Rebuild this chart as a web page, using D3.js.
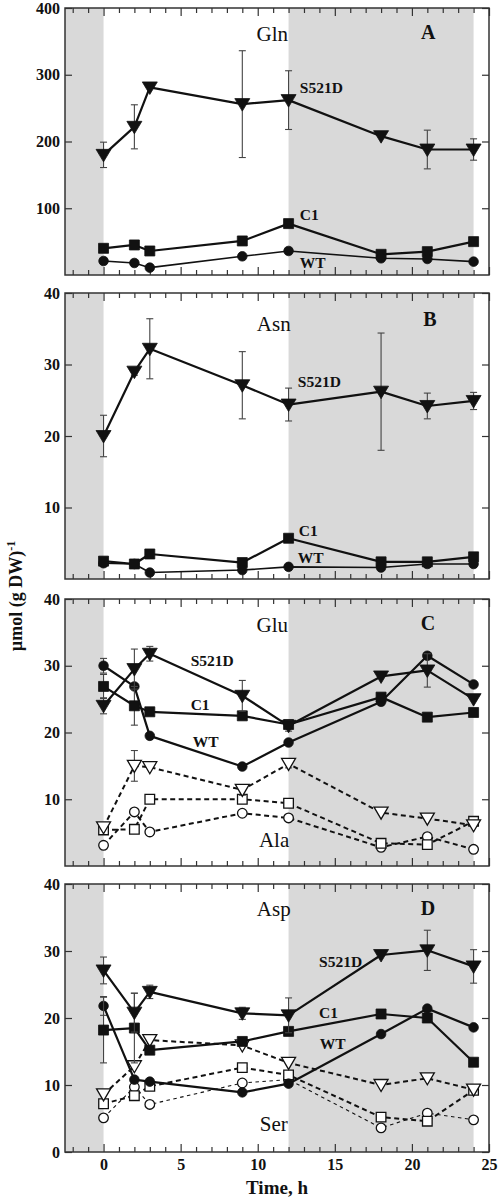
<!DOCTYPE html>
<html>
<head>
<meta charset="utf-8">
<script src="https://cdn.jsdelivr.net/npm/d3@7/dist/d3.min.js"></script>
<style>
  html, body { margin: 0; padding: 0; background: #fff; }
  svg { display: block; }
  text { font-family: "Liberation Serif", "Times New Roman", serif; fill: #111; }
</style>
</head>
<body>
<svg id="chart" width="498" height="1199"></svg>
<script>
// ---------- data ----------
const times = [0, 2, 3, 9, 12, 18, 21, 24];

// Panel A: Gln
const glnS521D    = [180, 222, 281, 256, 262, 208, 188, 188];
const glnS521DErr = [19, 33, 0, 80, 44, 0, 29, 16];
const glnC1       = [40, 45, 36, 51, 77, 31, 35, 50];
const glnC1Err    = [6, 6, 0, 0, 0, 0, 0, 0];
const glnWT       = [21, 18, 11, 28, 36, 25, 24, 20];

// Panel B: Asn
const asnS521D    = [20.0, 29.0, 32.2, 27.1, 24.4, 26.2, 24.2, 24.9];
const asnS521DErr = [2.9, 0.5, 4.2, 4.7, 2.3, 8.2, 1.8, 1.2];
const asnC1       = [2.5, 2.1, 3.5, 2.3, 5.7, 2.4, 2.4, 3.1];
const asnWT       = [2.2, 2.1, 0.9, 1.25, 1.7, 1.6, 2.1, 2.1];

// Panel C: Glu (solid) and Ala (dashed)
const gluS521D    = [24.0, 29.5, 31.8, 25.5, 21.0, 28.4, 29.3, 25.0];
const gluS521DErr = [1.2, 3.0, 1.1, 2.3, 0.8, 0, 2.5, 0];
const gluC1       = [26.9, 24.0, 23.1, 22.5, 21.2, 25.3, 22.3, 23.0];
const gluC1Err    = [1.8, 2.9, 0, 0, 0, 0, 0, 0];
const gluWT       = [30.0, 26.9, 19.5, 14.9, 18.5, 24.6, 31.5, 27.2];
const gluWTErr    = [1.1, 0, 0, 0, 0, 0, 0, 0];
const alaS521D    = [5.8, 15.0, 14.8, 11.4, 15.3, 8.0, 7.1, 6.1];
const alaS521DErr = [0, 2.3, 0, 0.8, 0.6, 0, 0, 0];
const alaC1       = [5.4, 5.5, 10.0, 10.0, 9.4, 3.4, 3.2, 6.7];
const alaWT       = [3.1, 8.1, 5.1, 7.9, 7.2, 2.8, 4.4, 2.5];

// Panel D: Asp (solid) and Ser (dashed)
const aspS521D    = [27.1, 20.8, 23.9, 20.7, 20.4, 29.4, 30.1, 27.7];
const aspS521DErr = [2.0, 2.9, 1.0, 0.9, 2.6, 0, 3.0, 2.5];
const aspC1       = [18.2, 18.5, 15.2, 16.5, 18.0, 20.6, 20.0, 13.4];
const aspC1Err    = [4.9, 5.2, 0, 0, 0, 0, 0, 0];
const aspWT       = [21.8, 10.8, 10.5, 8.9, 10.2, 17.6, 21.4, 18.6];
const aspWTErr    = [1.4, 0, 0, 0, 0, 0, 0, 0];
const serS521D    = [8.6, 12.8, 16.7, 15.9, 13.3, 10.0, 11.0, 9.3];
const serC1       = [7.2, 8.4, 9.8, 12.6, 11.5, 5.2, 4.6, 9.2];
const serWT       = [5.1, 9.7, 7.1, 10.3, 10.8, 3.6, 5.8, 4.8];

const darkPeriods = [[-2.5, 0], [12, 24]];
const xMajorTicks = [0, 5, 10, 15, 20, 25];
const xMinorTicks = d3.range(-2, 25, 1).filter(v => v % 5 !== 0);

// ---------- layout ----------
const svg = d3.select("#chart");
const X0 = 65, X1 = 489;
const x = d3.scaleLinear().domain([-2.5, 25]).range([X0, X1]);

const panels = [
  { top: 8,   bottom: 275, domain: [0, 400], ticks: [100, 200, 300, 400], letter: "A", name: "Gln",
    nameAt: [10.95, 351], letterAt: [21.06, 354],
    series: [
      { v: glnS521D, e: glnS521DErr, m: "tri", fill: true, dash: null, w: 2.2 },
      { v: glnC1, e: glnC1Err, m: "sq", fill: true, dash: null, w: 2.2 },
      { v: glnWT, m: "ci", fill: true, dash: null, w: 1.6 } ],
    labels: [ ["S521D", 12.73, 272.5], ["C1", 12.73, 82], ["WT", 12.73, 10.5] ] },
  { top: 293, bottom: 579, domain: [0, 40], ticks: [10, 20, 30, 40], letter: "B", name: "Asn",
    nameAt: [11.04, 34.7], letterAt: [21.17, 35.4],
    series: [
      { v: asnS521D, e: asnS521DErr, m: "tri", fill: true, dash: null, w: 2.2 },
      { v: asnC1, m: "sq", fill: true, dash: null, w: 2.2 },
      { v: asnWT, m: "ci", fill: true, dash: null, w: 1.6 } ],
    labels: [ ["S521D", 12.6, 26.9], ["C1", 12.66, 6.06], ["WT", 12.6, 2.28] ] },
  { top: 599, bottom: 866, domain: [0, 40], ticks: [10, 20, 30, 40], letter: "C", name: "Glu",
    nameAt: [10.94, 35.1], letterAt: [21.04, 35.4], name2: "Ala", name2At: [11.06, 2.8],
    series: [
      { v: alaWT, m: "ci", fill: false, dash: "5,3.5", w: 2 },
      { v: alaC1, m: "sq", fill: false, dash: "5,3.5", w: 2 },
      { v: alaS521D, e: alaS521DErr, m: "tri", fill: false, dash: "5,3.5", w: 2 },
      { v: gluWT, e: gluWTErr, m: "ci", fill: true, dash: null, w: 2.2 },
      { v: gluC1, e: gluC1Err, m: "sq", fill: true, dash: null, w: 2.2 },
      { v: gluS521D, e: gluS521DErr, m: "tri", fill: true, dash: null, w: 2.2 } ],
    labels: [ ["S521D", 5.65, 30.0], ["C1", 5.65, 23.4], ["WT", 5.78, 17.9] ] },
  { top: 884, bottom: 1152, domain: [0, 40], ticks: [0, 10, 20, 30, 40], letter: "D", name: "Asp",
    nameAt: [11.04, 35.2], letterAt: [21.04, 35.4], name2: "Ser", name2At: [11.04, 3.2], xlabels: true,
    series: [
      { v: serWT, m: "ci", fill: false, dash: "3.5,3.5", w: 1.1 },
      { v: serC1, m: "sq", fill: false, dash: "5,3.5", w: 2 },
      { v: serS521D, m: "tri", fill: false, dash: "5,3.5", w: 2 },
      { v: aspWT, e: aspWTErr, m: "ci", fill: true, dash: null, w: 2.2 },
      { v: aspC1, e: aspC1Err, m: "sq", fill: true, dash: null, w: 2.2 },
      { v: aspS521D, e: aspS521DErr, m: "tri", fill: true, dash: null, w: 2.2 } ],
    labels: [ ["S521D", 13.98, 27.6], ["C1", 13.98, 20.0], ["WT", 14.03, 15.3] ] }
];

function markerPath(type) {
  if (type === "tri") return "M-7.5,-5.5L7.5,-5.5L0,7Z";
  if (type === "sq") return "M-5,-5L5,-5L5,5L-5,5Z";
  return d3.arc()({ innerRadius: 0, outerRadius: 4.8, startAngle: 0, endAngle: 2 * Math.PI });
}
function markerPathOpen(type) {
  if (type === "tri") return "M-7,-5.5L7,-5.5L0,6.5Z";
  if (type === "sq") return "M-4.8,-4.8L4.8,-4.8L4.8,4.8L-4.8,4.8Z";
  return d3.arc()({ innerRadius: 0, outerRadius: 4.8, startAngle: 0, endAngle: 2 * Math.PI });
}

panels.forEach(p => {
  const y = d3.scaleLinear().domain(p.domain).range([p.bottom, p.top]);
  const g = svg.append("g");

  // dark periods
  g.selectAll("rect.dark").data(darkPeriods).join("rect")
    .attr("x", d => x(d[0])).attr("width", d => x(d[1]) - x(d[0]))
    .attr("y", p.top).attr("height", p.bottom - p.top)
    .attr("fill", "#d9d9d9");

  // axes: ticks inward
  const mkAxis = (axisFn, scale, values, size) =>
    axisFn(scale).tickValues(values).tickSize(size).tickSizeOuter(0).tickFormat("");
  const styleAxis = sel => {
    sel.select(".domain").remove();
    sel.selectAll(".tick line").attr("stroke", "#333").attr("stroke-width", 1.2);
  };
  g.append("g").attr("transform", `translate(0,${p.bottom})`).call(mkAxis(d3.axisBottom, x, xMajorTicks, -8)).call(styleAxis);
  g.append("g").attr("transform", `translate(0,${p.bottom})`).call(mkAxis(d3.axisBottom, x, xMinorTicks, -5)).call(styleAxis);
  g.append("g").attr("transform", `translate(0,${p.top})`).call(mkAxis(d3.axisTop, x, xMajorTicks, -8)).call(styleAxis);
  g.append("g").attr("transform", `translate(0,${p.top})`).call(mkAxis(d3.axisTop, x, xMinorTicks, -5)).call(styleAxis);
  g.append("g").attr("transform", `translate(${X0},0)`).call(mkAxis(d3.axisLeft, y, p.ticks, -7)).call(styleAxis);
  g.append("g").attr("transform", `translate(${X1},0)`).call(mkAxis(d3.axisRight, y, p.ticks, -7)).call(styleAxis);

  // y tick labels
  const yl = g.append("g").attr("transform", `translate(${X0},0)`)
    .call(d3.axisLeft(y).tickValues(p.ticks).tickSize(0).tickPadding(5));
  yl.select(".domain").remove();
  yl.selectAll("text").attr("font-family", "Liberation Serif, serif").attr("font-size", 16)
    .attr("font-weight", "bold").attr("fill", "#111");

  if (p.xlabels) {
    const xl = g.append("g").attr("transform", `translate(0,${p.bottom})`)
      .call(d3.axisBottom(x).tickValues(xMajorTicks).tickSize(0).tickPadding(7));
    xl.select(".domain").remove();
    xl.selectAll("text").attr("font-family", "Liberation Serif, serif").attr("font-size", 16)
      .attr("font-weight", "bold").attr("fill", "#111");
  }

  // frame
  g.append("rect").attr("x", X0).attr("y", p.top).attr("width", X1 - X0).attr("height", p.bottom - p.top)
    .attr("fill", "none").attr("stroke", "#333").attr("stroke-width", 1.5);

  // series
  const line = d3.line().x((d, i) => x(times[i])).y(d => y(d));
  p.series.forEach(s => {
    const sg = g.append("g");
    // error bars
    if (s.e) {
      const eb = times.map((t, i) => ({ t, v: s.v[i], e: s.e[i] })).filter(d => d.e > 0);
      sg.selectAll("line.eb").data(eb).join("line")
        .attr("x1", d => x(d.t)).attr("x2", d => x(d.t))
        .attr("y1", d => y(d.v - d.e)).attr("y2", d => y(d.v + d.e))
        .attr("stroke", "#444").attr("stroke-width", 1.1);
      ["+", "-"].forEach(sign => {
        sg.selectAll("line.cap" + (sign === "+" ? "u" : "d")).data(eb).join("line")
          .attr("x1", d => x(d.t) - 3.5).attr("x2", d => x(d.t) + 3.5)
          .attr("y1", d => y(sign === "+" ? d.v + d.e : d.v - d.e))
          .attr("y2", d => y(sign === "+" ? d.v + d.e : d.v - d.e))
          .attr("stroke", "#444").attr("stroke-width", 1.1);
      });
    }
    sg.append("path").datum(s.v).attr("d", line)
      .attr("fill", "none").attr("stroke", "#111").attr("stroke-width", s.w)
      .attr("stroke-dasharray", s.dash).attr("stroke-linejoin", "round");
    sg.selectAll("path.mk").data(s.v).join("path")
      .attr("transform", (d, i) => `translate(${x(times[i])},${y(d)})`)
      .attr("d", s.fill ? markerPath(s.m) : markerPathOpen(s.m))
      .attr("fill", s.fill ? "#111" : "#fff")
      .attr("stroke", "#111").attr("stroke-width", s.fill ? 0.8 : 1.3);
  });

  // annotations
  g.append("text").attr("x", x(p.nameAt[0])).attr("y", y(p.nameAt[1]))
    .attr("text-anchor", "middle").attr("font-size", 21).text(p.name);
  if (p.name2) {
    g.append("text").attr("x", x(p.name2At[0])).attr("y", y(p.name2At[1]))
      .attr("text-anchor", "middle").attr("font-size", 21).text(p.name2);
  }
  g.append("text").attr("x", x(p.letterAt[0])).attr("y", y(p.letterAt[1]))
    .attr("text-anchor", "middle").attr("font-size", 20).attr("font-weight", "bold").text(p.letter);
  g.selectAll("text.lab").data(p.labels).join("text")
    .attr("x", d => x(d[1])).attr("y", d => y(d[2]))
    .attr("font-size", 15.5).attr("font-weight", "bold").text(d => d[0]);
});

// axis titles
svg.append("text").attr("x", x(11.25)).attr("y", 1194).attr("text-anchor", "middle")
  .attr("font-size", 19).attr("font-weight", "bold").text("Time, h");

const yt = svg.append("text").attr("transform", "translate(22,596) rotate(-90)")
  .attr("text-anchor", "middle").attr("font-size", 18).attr("font-weight", "bold");
yt.append("tspan").text("µmol (g DW)");
yt.append("tspan").attr("dy", -7).attr("font-size", 12).text("-1");
</script>
</body>
</html>
